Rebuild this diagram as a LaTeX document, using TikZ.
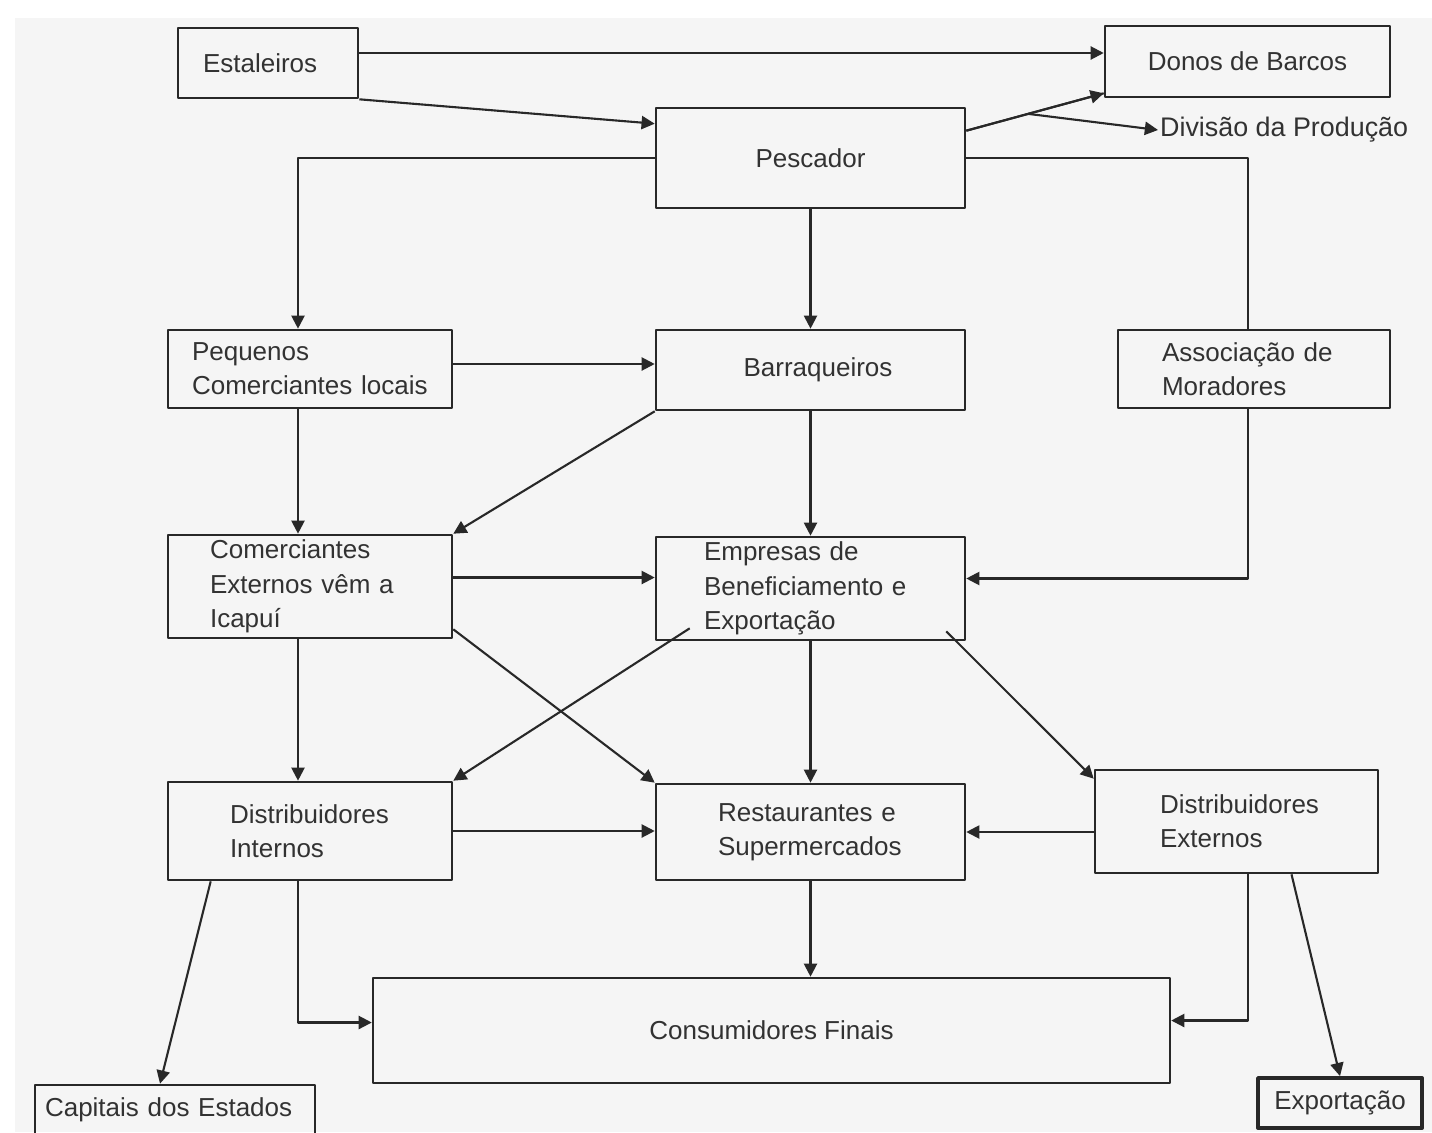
\documentclass[tikz,border=0pt]{standalone}
\usepackage{fontspec}
\setmainfont{Liberation Sans}
\usetikzlibrary{arrows.meta}
\begin{document}
\begin{tikzpicture}[x=0.02cm,y=-0.02cm,line join=round,font=\fontsize{14.8}{19.5}\selectfont]
		\definecolor{fundo}{RGB}{245,245,245}
		\definecolor{traco}{RGB}{40,40,40}
		\definecolor{letra}{RGB}{50,50,50}
		\tikzset{
			caixa/.style={draw=traco,line width=1.5pt,rectangle,inner sep=0pt,text=letra,align=center},
			seta/.style={draw=traco,line width=1.2pt,-{Triangle[length=7.5pt,width=7.5pt]}},
			linha/.style={draw=traco,line width=1.2pt},
		}
		\fill[white] (0,0) rectangle (1432,1132);
		\fill[fundo] (15,18) rectangle (1432,1132);
		\useasboundingbox (0,0) rectangle (1432,1132);
		\clip (0,0) rectangle (1432,1132);
		% colunas dos conectores
		\coordinate (colA) at (298,0);
		\coordinate (colC) at (1248,0);
		
		\node[caixa,minimum width=3.6cm,minimum height=1.4cm,text width=2.6cm,inner xsep=0.5cm,align=left] (est) at (268,63) {Estaleiros};
		\node[caixa,minimum width=5.7cm,minimum height=1.42cm] (donos) at (1247.5,61.5) {Donos de Barcos};
		\node[caixa,minimum width=6.18cm,minimum height=2cm] (pesc) at (810.5,158) {Pescador};
		\node[text=letra,anchor=west,inner sep=1pt,font=\fontsize{15.3}{19.5}\selectfont] (div) at (1158,130) {Divisão da Produção};
		
		\node[caixa,minimum width=5.68cm,minimum height=1.56cm,text width=4.72cm,inner xsep=0.48cm,align=left] (peq) at (310,369) {Pequenos\\Comerciantes locais};
		\node[caixa,minimum width=6.18cm,minimum height=1.6cm] (barr) at (810.5,370) {\hspace*{0.3cm}Barraqueiros};
		\node[caixa,minimum width=5.44cm,minimum height=1.56cm,text width=3.68cm,inner xsep=0.88cm,align=left] (assoc) at (1254,369) {Associação de\\Moradores};
		
		\node[caixa,minimum width=5.68cm,minimum height=2.06cm,text width=4cm,inner xsep=0.84cm,align=left] (com) at (310,586.5) {Comerciantes\\Externos vêm a\\Icapuí};
		\node[caixa,minimum width=6.18cm,minimum height=2.06cm,text width=4.26cm,inner xsep=0.96cm,align=left] (emp) at (810.5,588.5) {Empresas de\\Beneficiamento e\\Exportação};
		
		\node[caixa,minimum width=5.68cm,minimum height=1.96cm,text width=3.2cm,inner xsep=1.24cm,align=left] (dint) at (310,831) {Distribuidores\\Internos};
		\node[caixa,minimum width=6.18cm,minimum height=1.92cm,text width=3.7cm,inner xsep=1.24cm,align=left] (rest) at (810.5,832) {Restaurantes e\\Supermercados};
		\node[caixa,minimum width=5.66cm,minimum height=2.06cm,text width=3.06cm,inner xsep=1.3cm,align=left] (dext) at (1236.5,821.5) {Distribuidores\\Externos};
		
		\node[caixa,minimum width=15.94cm,minimum height=2.1cm] (cons) at (771.5,1030.5) {Consumidores Finais};
		\node[caixa,minimum width=5.6cm,minimum height=1cm,text width=5.2cm,inner xsep=0.2cm,align=left] (cap) at (175,1110) {Capitais dos Estados};
		\node[caixa,line width=2.2pt,minimum width=3.28cm,minimum height=1cm] (exp) at (1340,1103) {Exportação};
		
		\draw[seta] ([yshift=0.2cm]est.east) -- ([yshift=0.2cm]est.east -| donos.west);
		\draw[seta] (est.south east) -- ([yshift=-0.34cm]pesc.north west);
		\draw[linha] ([yshift=-0.48cm]pesc.north east) -- coordinate[pos=0.45] (parte) ([yshift=0.1cm]donos.south west);
		\draw[seta] ([yshift=-0.48cm]pesc.north east) -- ([yshift=0.1cm]donos.south west);
		\draw[seta] (parte) -- (div.west);
		
		\draw[seta] (pesc.west) -| (peq.north -| colA);
		\draw[seta] (pesc.south) -- (barr.north);
		\draw[linha] (pesc.east) -| (assoc.north -| colC);
		\draw[seta] (assoc.south -| colC) |- ([yshift=0.2cm]emp.east);
		
		\draw[seta] ([yshift=0.1cm]peq.east) -- ([yshift=0.1cm]peq.east -| barr.west);
		\draw[seta] (peq.south -| colA) -- (com.north -| colA);
		\draw[seta] (barr.south west) -- (com.north east);
		\draw[seta] (barr.south) -- (emp.north);
		
		\draw[seta] ([yshift=0.18cm]com.east) -- ([yshift=0.18cm]com.east -| emp.west);
		\draw[seta] (com.south -| colA) -- (dint.north -| colA);
		\draw[seta] ([yshift=0.2cm]com.south east) -- (rest.north west);
		\draw[seta] ([xshift=0.7cm,yshift=0.26cm]emp.south west) -- (dint.north east);
		\draw[seta] (emp.south) -- (rest.north);
		\draw[seta] ([xshift=-0.4cm,yshift=0.2cm]emp.south east) -- ([yshift=-0.2cm]dext.north west);
		
		\draw[seta] (dint.east) -- (dint.east -| rest.west);
		\draw[seta] (dext.west |- rest.east) -- (rest.east);
		\draw[seta] (rest.south) -- (rest.south |- cons.north);
		\draw[seta] (dint.south -| colA) |- ([yshift=0.16cm]cons.west);
		\draw[seta] (dext.south -| colC) |- ([yshift=0.2cm]cons.east);
		\draw[seta] ([xshift=0.88cm]dint.south west) -- ([xshift=-0.3cm]cap.north);
		\draw[seta] ([xshift=1.1cm]dext.south) -- (exp.north);
	\end{tikzpicture}
\end{document}
